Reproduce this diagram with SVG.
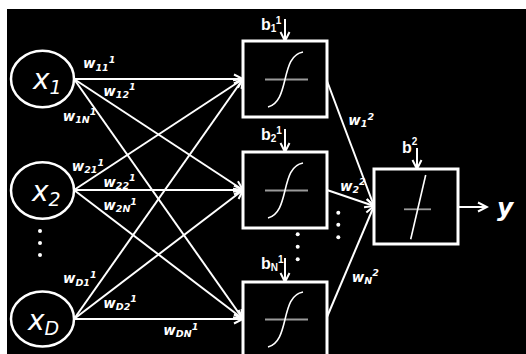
<svg xmlns="http://www.w3.org/2000/svg" width="526" height="354" viewBox="0 0 526 354">
<style>
.ln{stroke:#fff;stroke-width:2;fill:none}
.node{stroke:#fff;stroke-width:2.5;fill:none}
.box{stroke:#fff;stroke-width:3;fill:#000}
.axis{stroke:#9a9a9a;stroke-width:1.8}
.curve{stroke:#fff;stroke-width:1.6;fill:none}
.xl{font-family:"DejaVu Sans",sans-serif;font-style:italic;font-size:28px;fill:#fff}
.xs{font-size:19px}
.w{font-family:"DejaVu Sans",sans-serif;font-style:italic;font-weight:bold;font-size:13.5px;fill:#fff}
.s{font-size:9.5px}
.b{font-family:"Liberation Sans",sans-serif;font-weight:bold;font-size:16px;fill:#fff}
.bs{font-size:10px}
.dot{fill:#fff}
</style>
<defs>
<marker id="ah" markerWidth="12" markerHeight="12" refX="10" refY="6" orient="auto" markerUnits="userSpaceOnUse">
<path d="M1,1.5 L10,6 L1,10.5" stroke="#fff" stroke-width="2" fill="none"/>
</marker>
<g id="sig">
<line class="axis" x1="265" y1="79.5" x2="308" y2="79.5"/>
<path class="curve" d="M268,107 C279,104 282,92 285,79.5 C288,67 291,54 303,52"/>
</g>
</defs>
<rect x="0" y="0" width="526" height="354" fill="#fff"/>
<rect x="7" y="9" width="519" height="345" fill="#000"/>

<g id="connectors">
<line class="ln" x1="74" y1="79" x2="243" y2="79" marker-end="url(#ah)"/>
<line class="ln" x1="74" y1="79" x2="243" y2="190" marker-end="url(#ah)"/>
<line class="ln" x1="74" y1="79" x2="243" y2="319" marker-end="url(#ah)"/>
<line class="ln" x1="74" y1="190" x2="243" y2="79" marker-end="url(#ah)"/>
<line class="ln" x1="74" y1="190" x2="243" y2="190" marker-end="url(#ah)"/>
<line class="ln" x1="74" y1="190" x2="243" y2="319" marker-end="url(#ah)"/>
<line class="ln" x1="74" y1="319" x2="243" y2="79" marker-end="url(#ah)"/>
<line class="ln" x1="74" y1="319" x2="243" y2="190" marker-end="url(#ah)"/>
<line class="ln" x1="74" y1="319" x2="243" y2="319" marker-end="url(#ah)"/>
<line class="ln" x1="327" y1="81" x2="374" y2="206" marker-end="url(#ah)"/>
<line class="ln" x1="327" y1="190" x2="374" y2="206" marker-end="url(#ah)"/>
<line class="ln" x1="327" y1="317" x2="374" y2="206" marker-end="url(#ah)"/>
<line class="ln" x1="459" y1="207" x2="487" y2="207" marker-end="url(#ah)"/>
<line class="ln" x1="285" y1="19" x2="285" y2="41" marker-end="url(#ah)"/>
<line class="ln" x1="285" y1="129" x2="285" y2="152" marker-end="url(#ah)"/>
<line class="ln" x1="285" y1="258" x2="285" y2="282" marker-end="url(#ah)"/>
<line class="ln" x1="417" y1="148" x2="417" y2="169" marker-end="url(#ah)"/>
</g>

<g id="weights">
<text class="w" x="83" y="68.3">w<tspan class="s" dy="2.4">11</tspan><tspan class="s" dy="-7.7">1</tspan></text>
<text class="w" x="103.3" y="95.7">w<tspan class="s" dy="2.4">12</tspan><tspan class="s" dy="-7.7">1</tspan></text>
<text class="w" x="62.7" y="120.7">w<tspan class="s" dy="2.4">1N</tspan><tspan class="s" dy="-7.7">1</tspan></text>
<text class="w" x="71.7" y="171">w<tspan class="s" dy="2.4">21</tspan><tspan class="s" dy="-7.7">1</tspan></text>
<text class="w" x="103.3" y="186.7">w<tspan class="s" dy="2.4">22</tspan><tspan class="s" dy="-7.7">1</tspan></text>
<text class="w" x="103.3" y="210">w<tspan class="s" dy="2.4">2N</tspan><tspan class="s" dy="-7.7">1</tspan></text>
<text class="w" x="63" y="283.3">w<tspan class="s" dy="2.4">D1</tspan><tspan class="s" dy="-7.7">1</tspan></text>
<text class="w" x="103.3" y="307.7">w<tspan class="s" dy="2.4">D2</tspan><tspan class="s" dy="-7.7">1</tspan></text>
<text class="w" x="163.3" y="335">w<tspan class="s" dy="2.4">DN</tspan><tspan class="s" dy="-7.7">1</tspan></text>
<text class="w" x="348.3" y="125">w<tspan class="s" dy="2.4">1</tspan><tspan class="s" dy="-7.7">2</tspan></text>
<text class="w" x="340" y="190.7">w<tspan class="s" dy="2.4">2</tspan><tspan class="s" dy="-7.7">2</tspan></text>
<text class="w" x="351.7" y="281.7">w<tspan class="s" dy="2.4">N</tspan><tspan class="s" dy="-7.7">2</tspan></text>
</g>

<g id="x1">
<ellipse class="node" cx="42.5" cy="79" rx="31.5" ry="28.3"/>
<text class="xl" x="33" y="89">x<tspan class="xs" dy="5">1</tspan></text>
</g>
<g id="x2">
<ellipse class="node" cx="42.5" cy="190.5" rx="31.5" ry="28.3"/>
<text class="xl" x="32" y="200.5">x<tspan class="xs" dy="5">2</tspan></text>
</g>
<g id="xdots">
<circle class="dot" cx="40" cy="231" r="2"/>
<circle class="dot" cx="40" cy="243" r="2"/>
<circle class="dot" cx="40" cy="255" r="2"/>
</g>
<g id="xD">
<ellipse class="node" cx="42.5" cy="319" rx="31.5" ry="27.5"/>
<text class="xl" x="28" y="330">x<tspan class="xs" dy="5">D</tspan></text>
</g>

<g id="h1">
<rect class="box" x="243" y="41" width="84" height="76"/>
<use href="#sig"/>
<text class="b" x="261" y="30">b<tspan class="bs" dy="2">1</tspan><tspan class="bs" dy="-8">1</tspan></text>
</g>
<g id="h2">
<rect class="box" x="243" y="152" width="84" height="76"/>
<use href="#sig" transform="translate(0,111)"/>
<text class="b" x="261" y="140">b<tspan class="bs" dy="2">2</tspan><tspan class="bs" dy="-8">1</tspan></text>
</g>
<g id="hdots">
<circle class="dot" cx="297.7" cy="234.3" r="2"/>
<circle class="dot" cx="297.7" cy="246.7" r="2"/>
<circle class="dot" cx="297.7" cy="259.3" r="2"/>
<circle class="dot" cx="338.3" cy="212.7" r="2"/>
<circle class="dot" cx="338.3" cy="224.7" r="2"/>
<circle class="dot" cx="338.3" cy="237.3" r="2"/>
</g>
<g id="hN">
<rect class="box" x="243" y="282" width="84" height="78"/>
<use href="#sig" transform="translate(0,240)"/>
<text class="b" x="261" y="269.3">b<tspan class="bs" dy="2">N</tspan><tspan class="bs" dy="-8">1</tspan></text>
</g>

<g id="out">
<rect class="box" x="374" y="169" width="84" height="75"/>
<line class="axis" x1="404" y1="209.3" x2="431" y2="209.3"/>
<line class="curve" x1="410.7" y1="239.3" x2="425.7" y2="175"/>
<text class="b" x="402" y="152.7">b<tspan class="bs" dy="-8">2</tspan></text>
</g>
<g id="y">
<text x="497" y="215.7" style="font-family:'DejaVu Sans',sans-serif;font-style:italic;font-weight:bold;font-size:25px;fill:#fff">y</text>
</g>
</svg>
